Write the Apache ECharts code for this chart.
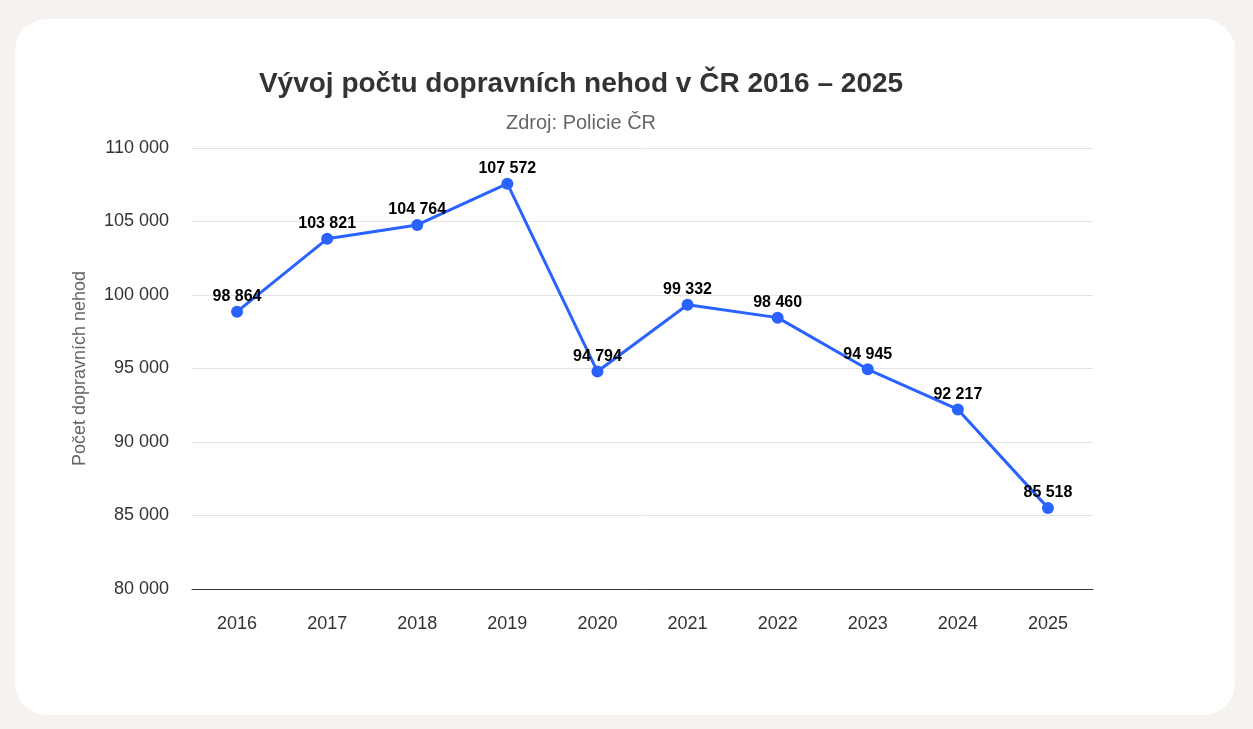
<!DOCTYPE html>
<html>
<head>
<meta charset="utf-8">
<script src="https://cdn.jsdelivr.net/npm/echarts@6/dist/echarts.min.js"></script>
<style>
  html, body { margin:0; padding:0; width:1253px; height:729px; background:#f6f2ef; overflow:hidden; }
  #card { position:absolute; left:15px; top:19px; width:1220px; height:696px; background:#ffffff; border-radius:32px; }
  #chart { position:absolute; left:0; top:0; width:1253px; height:729px; }
</style>
</head>
<body>
<div id="card"></div>
<div id="chart"></div>
<script>
const years = ['2016','2017','2018','2019','2020','2021','2022','2023','2024','2025'];
const accidents = [98864, 103821, 104764, 107572, 94794, 99332, 98460, 94945, 92217, 85518];
const titleText = 'Vývoj počtu dopravních nehod v ČR 2016 – 2025';
const subtitleText = 'Zdroj: Policie ČR';
const yAxisName = 'Počet dopravních nehod';

function fmt(v) { return String(v).replace(/\B(?=(\d{3})+(?!\d))/g, ' '); }

const FF = '"Liberation Sans", Arial, sans-serif';
const chart = echarts.init(document.getElementById('chart'), null, { renderer: 'canvas' });
chart.setOption({
  backgroundColor: 'transparent',
  textStyle: { fontFamily: FF },
  title: [
    { text: titleText, left: 576, top: 65, textAlign: 'center',
      textStyle: { fontSize: 28, fontWeight: 'bold', color: '#333333', fontFamily: FF } },
    { text: subtitleText, left: 576, top: 108, textAlign: 'center',
      textStyle: { fontSize: 20, fontWeight: 'normal', color: '#666666', fontFamily: FF } }
  ],
  grid: { left: 192, right: 160, top: 148, bottom: 140, containLabel: false },
  xAxis: {
    type: 'category', data: years, boundaryGap: true,
    axisLine: { show: true, lineStyle: { color: '#333333', width: 1 } },
    axisTick: { show: false },
    axisLabel: { color: '#333333', fontSize: 18, margin: 26, fontFamily: FF }
  },
  yAxis: {
    type: 'value', min: 80000, max: 110000, interval: 5000,
    name: yAxisName, nameLocation: 'middle', nameGap: 103,
    nameTextStyle: { color: '#666666', fontSize: 18, fontFamily: FF },
    axisLine: { show: false }, axisTick: { show: false },
    axisLabel: { color: '#333333', fontSize: 18, margin: 23, fontFamily: FF, padding: [3, 0, 0, 0], formatter: v => fmt(v) },
    splitLine: { lineStyle: { color: '#e3e3e3', width: 1 } }
  },
  series: [{
    type: 'line', data: accidents,
    symbol: 'circle', symbolSize: 12,
    lineStyle: { color: '#2962ff', width: 3 },
    itemStyle: { color: '#2962ff' },
    label: { show: true, position: 'top', distance: 1, color: '#000000', fontSize: 16, fontWeight: 'bold',
      fontFamily: FF, formatter: p => fmt(p.value) },
    animation: false
  }]
});
</script>
</body>
</html>
